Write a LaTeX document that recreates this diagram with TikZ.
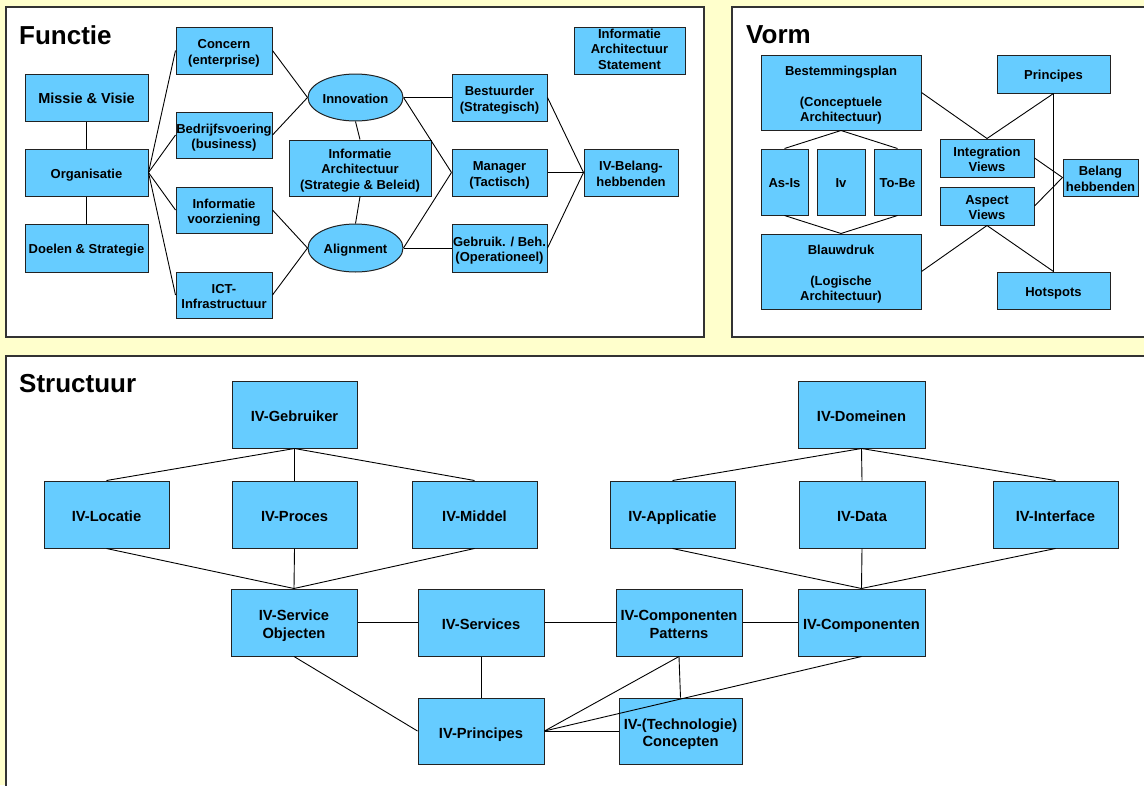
\documentclass[tikz,border=0pt]{standalone}
\usepackage{fontspec}
\setmainfont{Liberation Sans}
\usetikzlibrary{shapes.geometric}
\definecolor{pagebg}{HTML}{FFFFCC}
\definecolor{boxfill}{HTML}{66CCFF}
\definecolor{edge}{HTML}{222222}
\definecolor{frame}{HTML}{333333}

% box labels: a one-column tabular with extra room above it, so that the
% letters sit a little below the geometric centre of the box
\def\boxdrop{2.7pt}
\newcommand\boxlabel[1]{\vbox{\kern\boxdrop\kern\boxdrop\hbox{\begin{tabular}{@{}c@{}}#1\end{tabular}}}}

\tikzset{
  textdrop/.code={\def\boxdrop{#1}},
  panel/.style={draw=frame, line width=1.2pt, fill=white},
  title/.style={anchor=base west, inner sep=0pt, font=\fontsize{26}{30}\selectfont\bfseries},
  box/.style={draw=edge, line width=1pt, fill=boxfill, inner sep=0pt, textdrop=2.7pt,
              font=\fontsize{13}{15.5}\selectfont\bfseries},
  sz/.style 2 args={minimum width=#1pt, minimum height=#2pt},
  big/.style={font=\fontsize{14.7}{17.7}\selectfont\bfseries, textdrop=3.5pt},
  mid/.style={font=\fontsize{14.5}{17.7}\selectfont\bfseries, textdrop=2.5pt},
  oval/.style={box, ellipse},
  link/.style={draw=black, line width=0.9pt},
}

\begin{document}
\begin{tikzpicture}[x=1pt, y=-1pt]
\useasboundingbox (0,0) rectangle (1144,785);
\fill[pagebg] (0,0) rectangle (1144,785);
\clip (0,0) rectangle (1144,785);

% panels
\draw[panel] (6,7) rectangle (704,337);
\draw[panel] (732,7) rectangle (1152,337);
\draw[panel] (6,356) rectangle (1152,795);

\node[title] (tfunctie) at (19,44) {Functie};
\node[title] (tvorm) at (746,43.5) {Vorm};
\node[title] (tstructuur) at (19,392) {Structuur};

% ---------- Functie ----------
\node[box, sz={123}{47}, mid] (missie) at (86.5,97.5) {\boxlabel{Missie \& Visie}};
\node[box, sz={123}{47}] (org) at (86.5,172.5) {\boxlabel{Organisatie}};
\node[box, sz={123}{48}] (doelen) at (86.5,248) {\boxlabel{Doelen \& Strategie}};

\node[box, sz={96}{47}] (concern) at (224,50.5) {\boxlabel{Concern\\(enterprise)}};
\node[box, sz={96}{46}] (bedrijf) at (224,135) {\boxlabel{Bedrijfsvoering\\(business)}};
\node[box, sz={96}{46}] (voorz) at (224,210) {\boxlabel{Informatie\\voorziening}};
\node[box, sz={96}{46}] (ict) at (224,295) {\boxlabel{ICT-\\Infrastructuur}};

\node[oval, sz={95}{47}] (innov) at (355.5,97.5) {\boxlabel{Innovation}};
\node[box, sz={142}{56}] (ia) at (360,168) {\boxlabel{Informatie\\Architectuur\\(Strategie \& Beleid)}};
\node[oval, sz={95}{48}] (align) at (355.5,248) {\boxlabel{Alignment}};

\node[box, sz={95}{47}] (bestuur) at (499.5,97.5) {\boxlabel{Bestuurder\\(Strategisch)}};
\node[box, sz={95}{47}] (manager) at (499.5,172.5) {\boxlabel{Manager\\(Tactisch)}};
\node[box, sz={95}{48}] (gebruik) at (499.5,248) {\boxlabel{Gebruik. / Beh.\\(Operationeel)}};

\node[box, sz={94}{47}] (ivbelang) at (631,172.5) {\boxlabel{IV-Belang-\\hebbenden}};
\node[box, sz={111}{47}, textdrop=0.2pt] (statement) at (629.5,50.5) {\boxlabel{Informatie\\Architectuur\\Statement}};

% ---------- Vorm ----------
\node[box, sz={160}{75}] (bestem) at (841,92.5) {\boxlabel{Bestemmingsplan\\[15.5pt](Conceptuele\\Architectuur)}};
\node[box, sz={47}{66}] (asis) at (784.5,182) {\boxlabel{As-Is}};
\node[box, sz={48}{66}] (iv) at (841,182) {\boxlabel{Iv}};
\node[box, sz={47}{66}] (tobe) at (897.5,182) {\boxlabel{To-Be}};
\node[box, sz={160}{75}] (blauw) at (841,271.5) {\boxlabel{Blauwdruk\\[15.5pt](Logische\\Architectuur)}};

\node[box, sz={94}{38}] (integ) at (987,158) {\boxlabel{Integration\\Views}};
\node[box, sz={94}{38}] (aspect) at (987,206) {\boxlabel{Aspect\\Views}};
\node[box, sz={113}{38}] (vprinc) at (1053.5,74) {\boxlabel{Principes}};
\node[box, sz={113}{37}] (hot) at (1053.5,290.5) {\boxlabel{Hotspots}};
\node[box, sz={75}{37}] (vbelang) at (1100.5,177.5) {\boxlabel{Belang\\hebbenden}};

% ---------- Structuur ----------
\node[box, big, sz={125}{67}] (gebr) at (294.5,414.5) {\boxlabel{IV-Gebruiker}};
\node[box, big, sz={125}{67}] (lok) at (106.5,514.5) {\boxlabel{IV-Locatie}};
\node[box, big, sz={125}{67}] (proc) at (294.5,514.5) {\boxlabel{IV-Proces}};
\node[box, big, sz={125}{67}] (middel) at (474.5,514.5) {\boxlabel{IV-Middel}};

\node[box, big, sz={127}{67}] (dom) at (861.5,414.5) {\boxlabel{IV-Domeinen}};
\node[box, big, sz={125}{67}] (appl) at (672.5,514.5) {\boxlabel{IV-Applicatie}};
\node[box, big, sz={126}{67}] (data) at (862,514.5) {\boxlabel{IV-Data}};
\node[box, big, sz={125}{67}] (interf) at (1055.5,514.5) {\boxlabel{IV-Interface}};

\node[box, big, sz={126}{67}] (so) at (294,622.5) {\boxlabel{IV-Service\\Objecten}};
\node[box, big, sz={126}{67}] (serv) at (481,622.5) {\boxlabel{IV-Services}};
\node[box, big, sz={126}{67}] (patt) at (679,622.5) {\boxlabel{IV-Componenten\\Patterns}};
\node[box, big, sz={127}{67}] (comp) at (861.5,622.5) {\boxlabel{IV-Componenten}};

\node[box, big, sz={126}{66}] (sprinc) at (481,731) {\boxlabel{IV-Principes}};
\node[box, big, sz={123}{66}] (conc) at (680.5,731) {\boxlabel{IV-(Technologie)\\Concepten}};

% ---------- connectors ----------
% Functie
\draw[link] (missie) -- (org);
\draw[link] (org) -- (doelen);
\draw[link] (org.east) -- (concern.west);
\draw[link] (org.east) -- (bedrijf.west);
\draw[link] (org.east) -- (voorz.west);
\draw[link] (org.east) -- (ict.west);
\draw[link] (concern.east) -- (innov.west);
\draw[link] (bedrijf.east) -- (innov.west);
\draw[link] (voorz.east) -- (align.west);
\draw[link] (ict.east) -- (align.west);
\draw[link] (innov.south) -- (ia.north);
\draw[link] (ia.south) -- (align.north);
\draw[link] (innov.east) -- (bestuur.west);
\draw[link] (innov.east) -- (manager.west);
\draw[link] (align.east) -- (manager.west);
\draw[link] (align.east) -- (gebruik.west);
\draw[link] (bestuur.east) -- (ivbelang.west);
\draw[link] (manager.east) -- (ivbelang.west);
\draw[link] (gebruik.east) -- (ivbelang.west);

% Vorm
\draw[link] (bestem.south) -- (asis.north);
\draw[link] (bestem.south) -- (tobe.north);
\draw[link] (blauw.north) -- (asis.south);
\draw[link] (blauw.north) -- (tobe.south);
\draw[link] (bestem.east) -- (integ.north);
\draw[link] (vprinc.south) -- (integ.north);
\draw[link] (vprinc.south) -- (hot.north);
\draw[link] (integ.east) -- (vbelang.west);
\draw[link] (aspect.east) -- (vbelang.west);
\draw[link] (aspect.south) -- (blauw.east);
\draw[link] (aspect.south) -- (hot.north);

% Structuur
\draw[link] (gebr.south) -- (lok.north);
\draw[link] (gebr.south) -- (proc.north);
\draw[link] (gebr.south) -- (middel.north);
\draw[link] (lok.south) -- (so.north);
\draw[link] (proc.south) -- (so.north);
\draw[link] (middel.south) -- (so.north);
\draw[link] (dom.south) -- (appl.north);
\draw[link] (dom.south) -- (data.north);
\draw[link] (dom.south) -- (interf.north);
\draw[link] (appl.south) -- (comp.north);
\draw[link] (data.south) -- (comp.north);
\draw[link] (interf.south) -- (comp.north);
\draw[link] (so.east) -- (serv.west);
\draw[link] (serv.east) -- (patt.west);
\draw[link] (patt.east) -- (comp.west);
\draw[link] (serv.south) -- (sprinc.north);
\draw[link] (so.south) -- (sprinc.west);
\draw[link] (sprinc.east) -- (patt.south);
\draw[link] (sprinc.east) -- (conc.west);
\draw[link] (sprinc.east) -- (comp.south);
\draw[link] (patt.south) -- (conc.north);
\end{tikzpicture}
\end{document}
